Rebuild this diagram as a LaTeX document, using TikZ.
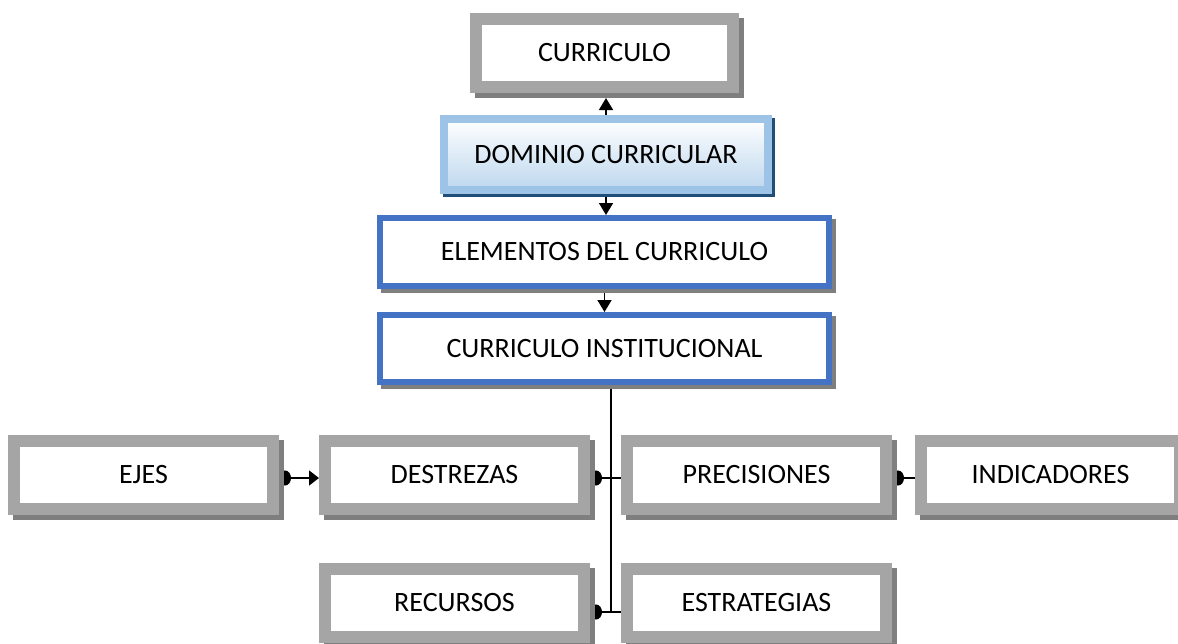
\documentclass[tikz,border=0pt]{standalone}
\usepackage{fontspec}
\setmainfont{Carlito}
\usetikzlibrary{arrows.meta}
\pgfdeclarelayer{conn}
\pgfdeclarelayer{shad}
\pgfsetlayers{conn,shad,main}
\definecolor{boxgray}{HTML}{A5A5A5}
\definecolor{shadgray}{HTML}{7F7F7F}
\definecolor{boxblue}{HTML}{4472C4}
\definecolor{lblue}{HTML}{9DC3E6}
\definecolor{dblue}{HTML}{1F4E79}
\definecolor{gradblue}{HTML}{BDD7EE}
\newcommand\boxshadow[3]{\begin{pgfonlayer}{shad}\fill[#2] ([shift={(#3,#3)}]#1.north west) rectangle ([shift={(#3,#3)}]#1.south east);\end{pgfonlayer}}
\tikzset{
  base/.style={rectangle, font=\fontsize{28}{33}\selectfont, inner sep=0pt, align=center},
  graybox/.style={base, draw=boxgray, line width=12pt, fill=white, minimum width=259pt, minimum height=68pt},
  bluebox/.style={base, draw=boxblue, line width=6pt, fill=white, minimum width=449pt, minimum height=67pt},
  gradbox/.style={base, draw=lblue, line width=8pt, top color=white, bottom color=gradblue, minimum width=324pt, minimum height=71pt},
  link/.style={line width=1.6pt, black},
  tri/.style={-{Triangle[length=12pt,width=14pt]}},
  blob/.style={-{Circle[length=12pt,width=15pt]}},
}
\begin{document}
\begin{tikzpicture}[x=1pt,y=-1pt]
\useasboundingbox (0,0) rectangle (1178,643);
% nodes
\node[graybox, minimum width=257pt, minimum height=68pt] (cur) at (604.5,53) {CURRICULO};
\node[gradbox] (dom) at (606,154.5) {DOMINIO CURRICULAR};
\node[bluebox, minimum height=68pt] (ele) at (604.5,252) {ELEMENTOS DEL CURRICULO};
\node[bluebox] (ci) at (604.5,348.5) {CURRICULO INSTITUCIONAL};
\node[graybox] (eje) at (143.5,475) {EJES};
\node[graybox] (des) at (454.5,475) {DESTREZAS};
\node[graybox] (pre) at (756.5,475) {PRECISIONES};
\node[graybox] (ind) at (1050.5,475) {INDICADORES};
\node[graybox] (rec) at (454.5,603) {RECURSOS};
\node[graybox] (est) at (756.5,603) {ESTRATEGIAS};
% shadows
\boxshadow{cur}{shadgray}{5}
\boxshadow{dom}{dblue}{3}
\boxshadow{ele}{shadgray}{4}
\boxshadow{ci}{shadgray}{4}
\foreach \n in {eje,des,pre,ind,rec,est}{\boxshadow{\n}{shadgray}{5}}
% connectors
\coordinate (r1) at (0,478);
\coordinate (vb) at (611,612);
\begin{pgfonlayer}{conn}
\draw[link,tri,shorten >=5pt] (dom.north) -- (dom.north |- cur.south);
\draw[link,tri] (dom.south) -- (dom.south |- ele.north);
\draw[link,tri] (ele.south) -- (ci.north);
\draw[link] (ci.south -| vb) -- (vb);
\draw[link,blob] (pre.west |- r1) -- (des.east |- r1);
\draw[link,blob] (ind.west |- r1) -- (pre.east |- r1);
\draw[link,{Circle[length=12pt,width=15pt]}-{Triangle[length=10pt,width=15pt]}] (eje.east |- r1) -- (des.west |- r1);
\draw[link,blob] (est.west |- vb) -- (rec.east |- vb);
\end{pgfonlayer}
\end{tikzpicture}
\end{document}
